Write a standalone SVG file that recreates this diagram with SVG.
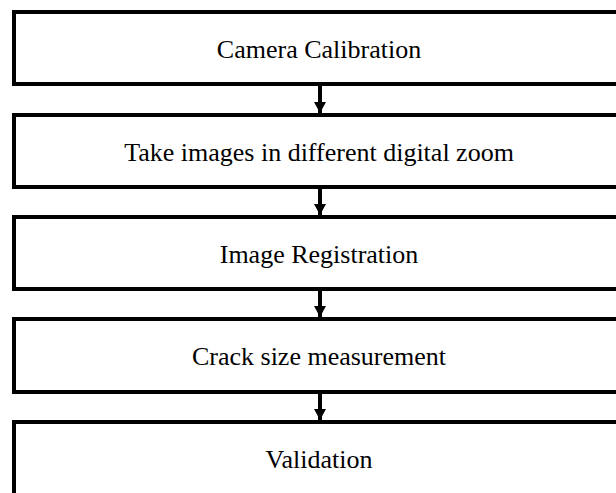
<svg xmlns="http://www.w3.org/2000/svg" width="616" height="493" viewBox="0 0 616 493">
<style>
.box{fill:#fff;stroke:#000;stroke-width:4}
.lbl{font-family:"Liberation Serif","Times New Roman",serif;font-size:26px;fill:#000;text-anchor:middle}
.con{stroke:#000;stroke-width:4;fill:none}
</style>
<defs>
<marker id="ah" markerWidth="11" markerHeight="12" refX="11" refY="6" orient="auto" markerUnits="userSpaceOnUse" viewBox="0 0 11 12">
<path d="M0,0 L11,6 L0,12 Z" fill="#000"/>
</marker>
</defs>
<rect width="616" height="493" fill="#fff"/>
<g id="n1"><rect class="box" x="14" y="12" width="620" height="72"/><text class="lbl" x="319" y="58">Camera Calibration</text></g>
<g id="n2"><rect class="box" x="14" y="115" width="620" height="72"/><text class="lbl" x="319" y="161">Take images in different digital zoom</text></g>
<g id="n3"><rect class="box" x="14" y="217" width="620" height="72"/><text class="lbl" x="319" y="263">Image Registration</text></g>
<g id="n4"><rect class="box" x="14" y="319" width="620" height="73"/><text class="lbl" x="319" y="365">Crack size measurement</text></g>
<g id="n5"><rect class="box" x="14" y="422" width="620" height="100"/><text class="lbl" x="319" y="468">Validation</text></g>
<g id="connectors">
<path class="con" d="M320,86 V113" marker-end="url(#ah)"/>
<path class="con" d="M320,189 V215" marker-end="url(#ah)"/>
<path class="con" d="M320,291 V317" marker-end="url(#ah)"/>
<path class="con" d="M320,394 V420" marker-end="url(#ah)"/>
</g>
</svg>
